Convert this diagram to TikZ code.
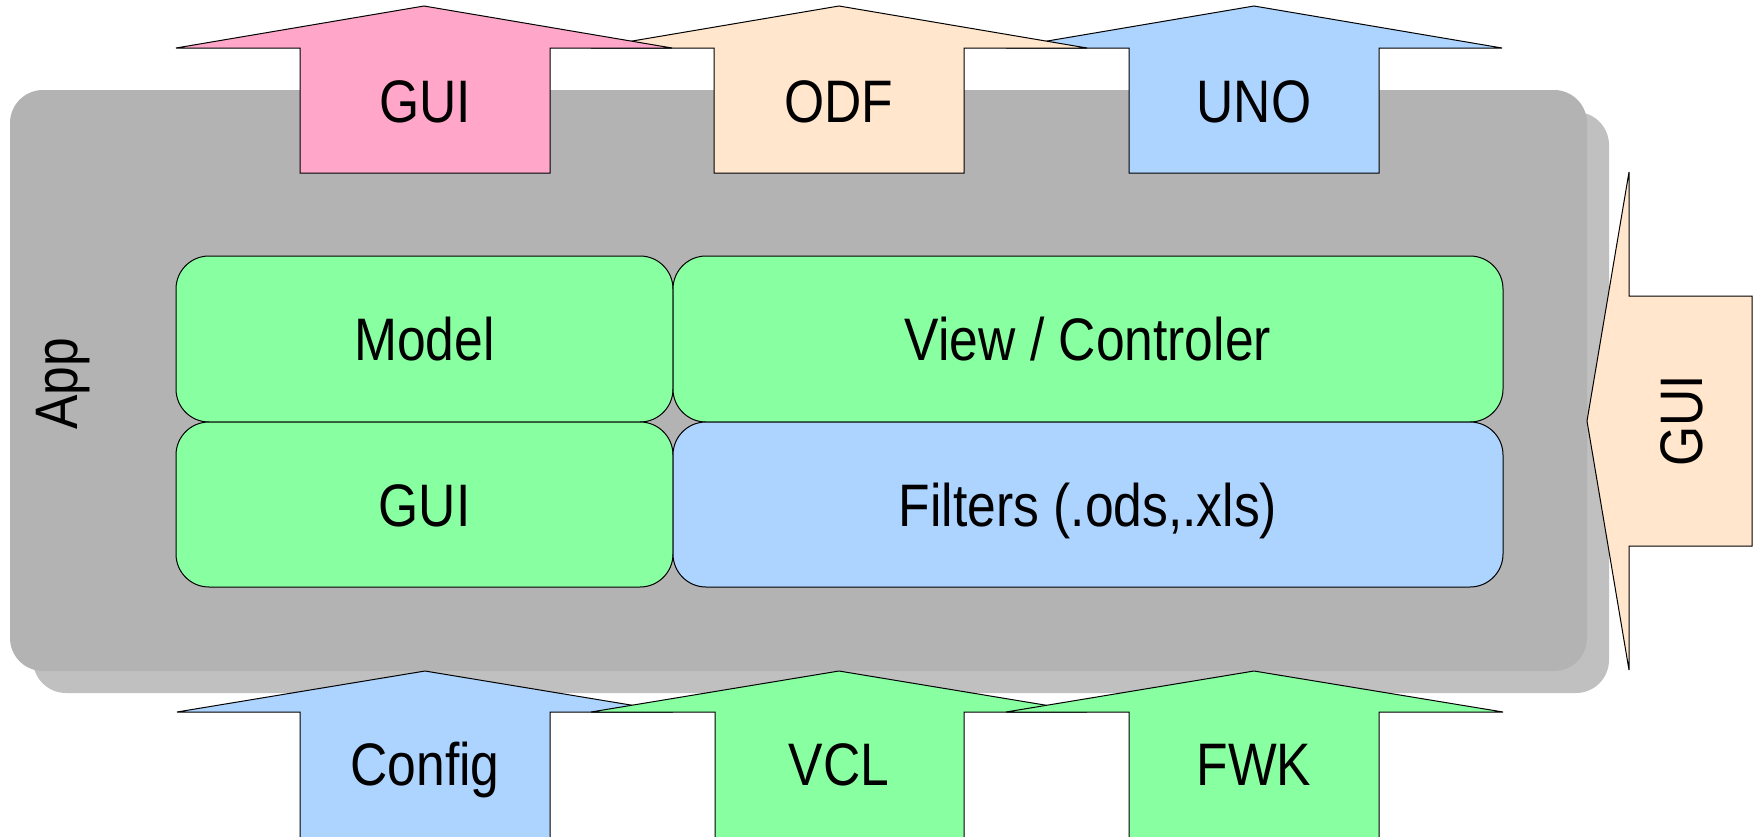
\documentclass[tikz,border=0pt]{standalone}
\usepackage{fontspec}
\setmainfont{Liberation Sans}[FakeStretch=0.86]
\newcommand\diagfont{\fontsize{60}{72}\selectfont}

\definecolor{appgray}{RGB}{179,179,179}
\definecolor{shadowgray}{RGB}{192,192,192}
\definecolor{pinkfill}{RGB}{255,166,201}
\definecolor{beigefill}{RGB}{255,230,204}
\definecolor{bluefill}{RGB}{173,211,255}
\definecolor{greenfill}{RGB}{136,255,160}

\tikzset{
  cell/.style={rectangle, draw=black, line width=1pt, rounded corners=33pt,
    inner sep=0pt, text height=43pt, text depth=0pt, font=\diagfont},
  blockarrow/.style={draw=black, line width=1pt, line join=miter},
  lbl/.style={inner sep=0pt, anchor=base, font=\diagfont}
}

\begin{document}
\begin{tikzpicture}[x=1pt,y=-1pt]
\useasboundingbox (0,0) rectangle (1757,836);
\clip (0,0) rectangle (1757,836);

% application frame with its drop shadow
\fill[shadowgray, rounded corners=33pt] (33,112) rectangle (1609,693);
\fill[appgray, rounded corners=33pt] (10,90) rectangle (1587,671);
\node[lbl, rotate=90] (app) at (77,384) {App};

% inner modules
\node[cell, fill=greenfill, minimum width=497pt, minimum height=166pt] (model) at (424.5,339) {Model};
\node[cell, fill=greenfill, minimum width=830pt, minimum height=166pt] (viewctl) at (1088,339) {View / Controler};
\node[cell, fill=greenfill, minimum width=497pt, minimum height=165pt] (guimod) at (424.5,504.5) {GUI};
\node[cell, fill=bluefill, minimum width=830pt, minimum height=165pt] (filters) at (1088,504.5) {Filters (.ods,.xls)};

% exported interfaces (top), right-most drawn first
\draw[blockarrow, fill=bluefill]
  (1129,173) -- (1129,48) -- (1006,48) -- (1254,6) -- (1502,48) -- (1379,48) -- (1379,173) -- cycle;
\draw[blockarrow, fill=beigefill]
  (714,173) -- (714,48) -- (591,48) -- (839,6) -- (1087,48) -- (964,48) -- (964,173) -- cycle;
\draw[blockarrow, fill=pinkfill]
  (300,173) -- (300,48) -- (176,48) -- (424,6) -- (672,48) -- (550,48) -- (550,173) -- cycle;
\node[lbl] (outgui) at (425,122.7) {GUI};
\node[lbl] (outodf) at (839,122.7) {ODF};
\node[lbl] (outuno) at (1254,122.7) {UNO};

% used libraries (bottom), left-most drawn first
\draw[blockarrow, fill=bluefill]
  (300,845) -- (300,712) -- (177,712) -- (425,671) -- (673,712) -- (550,712) -- (550,845) -- cycle;
\draw[blockarrow, fill=greenfill]
  (715,845) -- (715,712) -- (591,712) -- (839,671) -- (1087,712) -- (964,712) -- (964,845) -- cycle;
\draw[blockarrow, fill=greenfill]
  (1129,845) -- (1129,712) -- (1006,712) -- (1254,671) -- (1503,712) -- (1379,712) -- (1379,845) -- cycle;
\node[lbl] (incfg) at (425,785) {Config};
\node[lbl] (invcl) at (839,785) {VCL};
\node[lbl] (infwk) at (1254,785) {FWK};

% GUI input from the right
\draw[blockarrow, fill=beigefill]
  (1752,296) -- (1629,296) -- (1629,172) -- (1587,421) -- (1629,670) -- (1629,546) -- (1752,546) -- cycle;
\node[lbl, rotate=90] (ingui) at (1702,421) {GUI};
\end{tikzpicture}
\end{document}
